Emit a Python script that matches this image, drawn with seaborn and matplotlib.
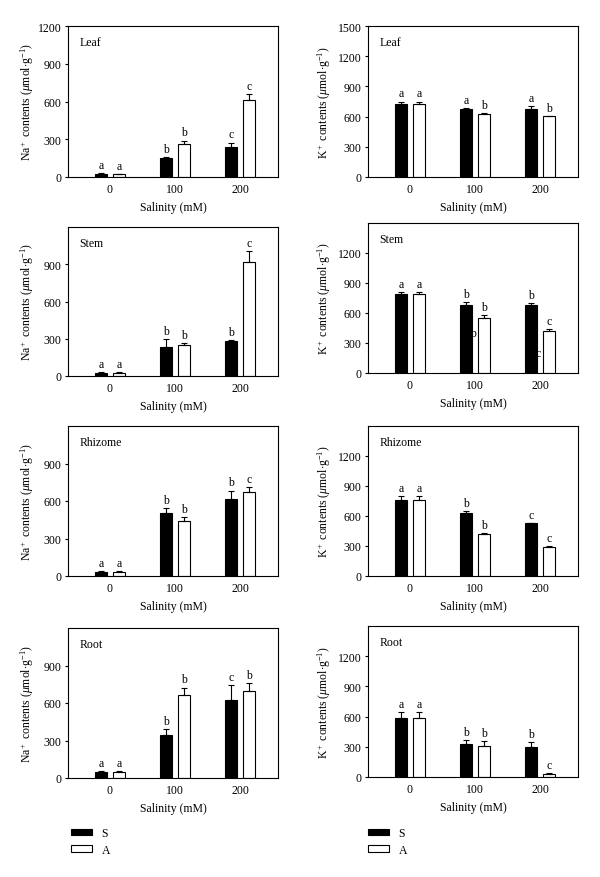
"""
Na+ and K+ contents in four tissues of two cultivars (S, A) under salinity.
Writes out.png
"""
import matplotlib
matplotlib.use("Agg")
import numpy as np
import pandas as pd
import matplotlib.pyplot as plt
import seaborn as sns

tissues = ["Leaf", "Stem", "Rhizome", "Root"]
salinity = ["0", "100", "200"]
cultivars = ["S", "A"]

# Na+ contents (umol/g), one row per tissue, columns = salinity
na_mean_S = [[25, 152, 239], [27, 237, 282], [35, 508, 620], [48, 341, 626]]
na_mean_A = [[22, 265, 612], [27, 248, 921], [35, 443, 673], [48, 665, 700]]
na_se_S = [[3, 4, 35], [4, 58, 8], [5, 37, 64], [11, 53, 117]]
na_se_A = [[3, 25, 45], [4, 20, 88], [5, 27, 38], [10, 59, 59]]
na_let_S = [["a", "b", "c"], ["a", "b", "b"], ["a", "b", "b"], ["a", "b", "c"]]
na_let_A = [["a", "b", "c"], ["a", "b", "c"], ["a", "b", "c"], ["a", "b", "b"]]

# K+ contents (umol/g)
k_mean_S = [[725, 675, 675], [786, 676, 680], [760, 627, 527], [590, 331, 298]]
k_mean_A = [[725, 625, 602], [786, 553, 424], [760, 423, 293], [590, 312, 30]]
k_se_S = [[25, 10, 30], [26, 33, 23], [40, 26, 5], [56, 37, 50]]
k_se_A = [[25, 12, 8], [26, 28, 20], [40, 10, 10], [56, 43, 6]]
k_let_S = [["a", "a", "a"], ["a", "b", "b"], ["a", "b", "c"], ["a", "b", "b"]]
k_let_A = [["a", "b", "b"], ["a", "b", "c"], ["a", "b", "c"], ["a", "b", "c"]]

# leftover letters half hidden behind the bars in the K+ stem panel
k_stem_stray = ["b", "c"]
k_stem_stray_group = [1, 2]
k_stem_stray_value = [397, 199]

na_ticks_top = [0, 300, 600, 900, 1200]
na_ticks = [0, 300, 600, 900]
k_ticks_top = [0, 300, 600, 900, 1200, 1500]
k_ticks = [0, 300, 600, 900, 1200]

W, H = 600, 878
# (top, bottom) of each panel box in pixels
na_rows_px = [(27, 178), (228, 377), (427, 577), (629, 779)]
k_rows_px = [(27, 178), (224, 374), (427, 577), (627, 778)]

FS = 8.5

sns.set_theme(style="ticks", rc={
    "axes.edgecolor": "black",
    "axes.linewidth": 0.8,
    "xtick.color": "black",
    "ytick.color": "black",
    "text.color": "black",
    "axes.labelcolor": "black",
})
plt.rcParams["font.family"] = ["Liberation Serif", "DejaVu Serif"]
plt.rcParams["mathtext.fontset"] = "custom"
plt.rcParams["mathtext.rm"] = "Liberation Serif"
plt.rcParams["mathtext.it"] = "Liberation Serif:italic"
plt.rcParams["font.size"] = FS

palette = {"S": "black", "A": "white"}


def draw_panel(ax, mean_s, mean_a, se_s, se_a, let_s, let_a, ylim, ticks,
               tissue, ylabel, label_x):
    df = pd.DataFrame({
        "salinity": salinity * 2,
        "cultivar": ["S"] * 3 + ["A"] * 3,
        "value": list(mean_s) + list(mean_a),
    })
    sns.barplot(data=df, x="salinity", y="value", hue="cultivar",
                order=salinity, hue_order=cultivars, palette=palette,
                saturation=1, width=0.56, gap=0.36, edgecolor="black",
                linewidth=0.8, errorbar=None, legend=False, ax=ax)

    for cont, se, lets in zip(ax.containers, [se_s, se_a], [let_s, let_a]):
        xs = [b.get_x() + b.get_width() / 2 for b in cont]
        ys = [b.get_height() for b in cont]
        ax.errorbar(xs, ys, yerr=[np.zeros(len(se)), se], fmt="none",
                    ecolor="black", elinewidth=0.8, capsize=2.2,
                    capthick=0.8, zorder=3)
        for x, y, s, t in zip(xs, ys, se, lets):
            ax.annotate(t, (x, y + s), xytext=(0, 1.5),
                        textcoords="offset points", ha="center",
                        va="bottom", fontsize=FS)

    ax.set_xlim(-0.646, 2.585)
    ax.set_ylim(0, ylim)
    ax.set_yticks(ticks)
    ax.tick_params(axis="y", direction="out", length=2.5, width=0.8,
                   pad=2, labelsize=FS)
    ax.tick_params(axis="x", length=0, pad=4.5, labelsize=FS)
    ax.set_xlabel("Salinity (mM)", fontsize=FS)
    ax.xaxis.set_label_coords(0.5, -0.16)
    ax.set_ylabel(ylabel, fontsize=FS)
    ax.yaxis.set_label_coords(label_x, 0.5)
    ax.text(0.055, 0.893, tissue, transform=ax.transAxes, ha="left",
            va="center", fontsize=FS)
    for sp in ax.spines.values():
        sp.set_visible(True)
        sp.set_linewidth(0.8)


fig = plt.figure(figsize=(W / 100, H / 100), dpi=100)

na_label = r"Na$^+$ contents ($\mu$mol$\cdot$g$^{-1}$)"
k_label = r"K$^+$ contents ($\mu$mol$\cdot$g$^{-1}$)"

axes_na, axes_k = [], []
for i, tissue in enumerate(tissues):
    top, bot = na_rows_px[i]
    ax = fig.add_axes([68 / W, 1 - bot / H, 210 / W, (bot - top) / H])
    draw_panel(ax, na_mean_S[i], na_mean_A[i], na_se_S[i], na_se_A[i],
               na_let_S[i], na_let_A[i], 1200,
               na_ticks_top if i == 0 else na_ticks, tissue, na_label, -0.152)
    axes_na.append(ax)

    top, bot = k_rows_px[i]
    ax = fig.add_axes([368 / W, 1 - bot / H, 210 / W, (bot - top) / H])
    draw_panel(ax, k_mean_S[i], k_mean_A[i], k_se_S[i], k_se_A[i],
               k_let_S[i], k_let_A[i], 1500,
               k_ticks_top if i == 0 else k_ticks, tissue, k_label, -0.168)
    axes_k.append(ax)

# stray letters in the K+ stem panel, drawn under the bars
ax = axes_k[1]
for t, g, v in zip(k_stem_stray, k_stem_stray_group, k_stem_stray_value):
    ax.text(g - 0.03, v, t, ha="center", va="center", fontsize=FS, zorder=0.5)

# legends under the bottom row
for ax, x_px in [(axes_na[-1], 71), (axes_k[-1], 368)]:
    handles = [ax.containers[0], ax.containers[1]]
    fig.legend(handles, cultivars, loc="upper left",
               bbox_to_anchor=(x_px / W, 1 - 828 / H), frameon=False,
               fontsize=FS, handlelength=1.8, handleheight=0.45,
               handletextpad=0.8, labelspacing=0.4, borderpad=0,
               borderaxespad=0)

fig.savefig("out.png", dpi=100)
